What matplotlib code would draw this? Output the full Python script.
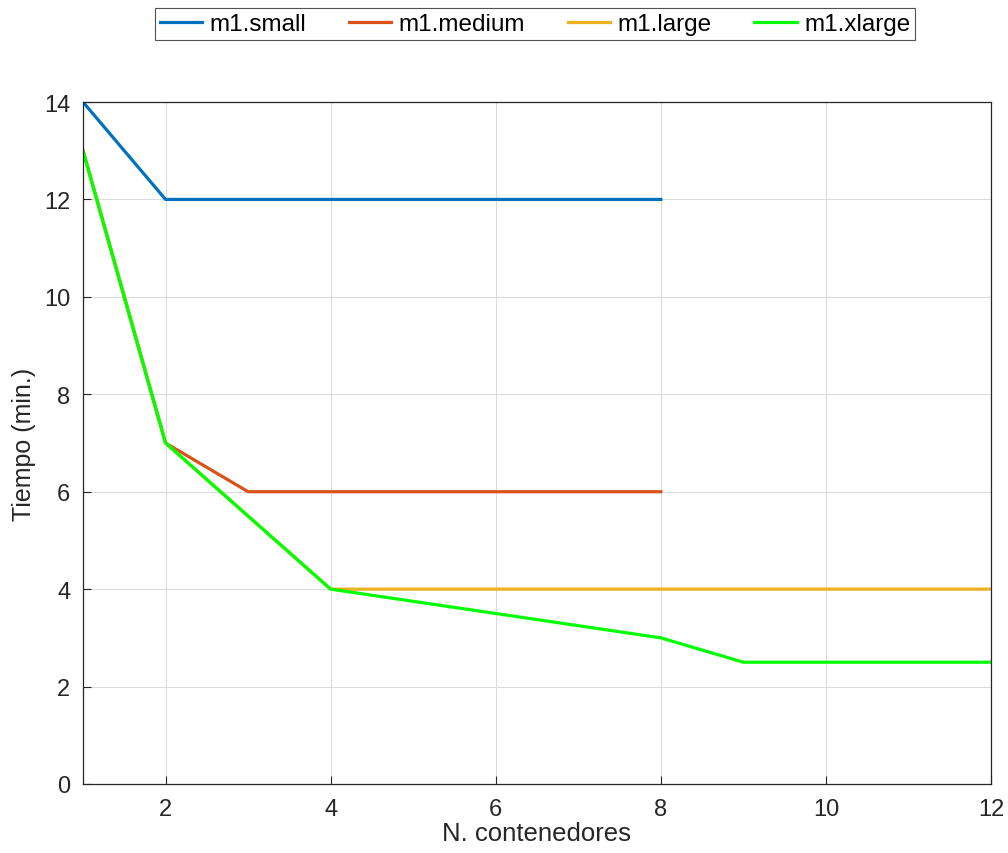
import matplotlib
matplotlib.use("Agg")
import matplotlib.pyplot as plt

plt.rcParams['font.family'] = ['Liberation Sans', 'DejaVu Sans']

x_small = [1, 2, 3, 4, 5, 6, 7, 8]
y_small = [14, 12, 12, 12, 12, 12, 12, 12]
x_medium = [1, 2, 3, 4, 5, 6, 7, 8]
y_medium = [13, 7, 6, 6, 6, 6, 6, 6]
x_large = [1, 2, 3, 4, 5, 6, 7, 8, 9, 10, 11, 12]
y_large = [13, 7, 5.5, 4, 4, 4, 4, 4, 4, 4, 4, 4]
x_xlarge = [1, 2, 3, 4, 5, 6, 7, 8, 9, 10, 11, 12]
y_xlarge = [13, 7, 5.5, 4, 3.75, 3.5, 3.25, 3, 2.5, 2.5, 2.5, 2.5]

labels = ['m1.small', 'm1.medium', 'm1.large', 'm1.xlarge']
colors = ['#0072BD', '#D95319', '#EDB120', '#00FF00']

fig = plt.figure(figsize=(10.08, 8.54), dpi=100)
ax = fig.add_axes([83/1008, 69/854, (991-83)/1008, (785-103)/854])

lw = 2.3
ax.plot(x_small, y_small, color=colors[0], lw=lw, label=labels[0])
ax.plot(x_medium, y_medium, color=colors[1], lw=lw, label=labels[1])
ax.plot(x_large, y_large, color=colors[2], lw=lw, label=labels[2])
ax.plot(x_xlarge, y_xlarge, color=colors[3], lw=lw, label=labels[3])

ax.set_xlim(1, 12)
ax.set_ylim(0, 14)
ax.set_xticks([2, 4, 6, 8, 10, 12])
ax.set_yticks([0, 2, 4, 6, 8, 10, 12, 14])
ax.grid(True, color='#dcdcdc', lw=0.8)
ax.set_axisbelow(True)
ax.tick_params(direction='in', length=6, labelsize=17, colors='#262626', width=0.8,
               top=False, right=False)
ax.tick_params(axis='y', pad=9)
ax.tick_params(axis='x', pad=10)
for s in ax.spines.values():
    s.set_color('#262626')
    s.set_linewidth(0.9)

ax.set_xlabel('N. contenedores', fontsize=18.5, color='#262626', labelpad=1)
ax.set_ylabel('Tiempo (min.)', fontsize=18, color='#262626', labelpad=6)

leg = fig.legend(loc='center', bbox_to_anchor=(535/1008, 1 - 25/854), ncol=4,
                 fontsize=17.5, frameon=True, fancybox=False, edgecolor='#262626',
                 handlelength=1.75, handletextpad=0.3, columnspacing=1.75,
                 borderpad=0.2, borderaxespad=0)
leg.get_frame().set_linewidth(0.8)

fig.savefig('out.png', dpi=100)
